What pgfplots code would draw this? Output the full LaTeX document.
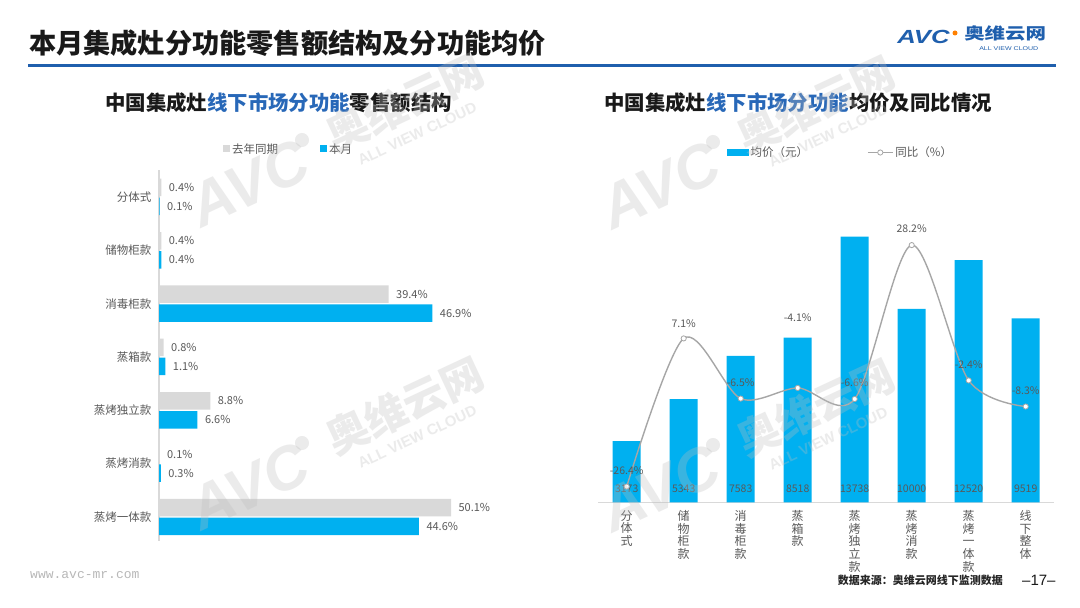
\documentclass[border=0pt]{standalone}
\usepackage{fontspec}
\setmainfont{Noto Sans CJK SC}
\newfontfamily\latinfont{Liberation Sans}
\newfontfamily\monofont{Liberation Mono}
\usepackage{pgfplots}
\pgfplotsset{compat=1.18}
\definecolor{cblue}{HTML}{00B0F0}
\definecolor{cgray}{HTML}{D9D9D9}
\definecolor{tgray}{HTML}{595959}
\definecolor{navy}{HTML}{1F5FAD}
\definecolor{subblue}{HTML}{2868B8}
\definecolor{lgray}{HTML}{A6A6A6}
\definecolor{wmc}{RGB}{190,190,190}
\newcommand{\fs}[1]{\fontsize{#1}{#1}\selectfont}
\newcommand{\wm}[2]{%
\begin{scope}[shift={(#1pt,608pt-#2pt)}, rotate=25, transform shape, fill opacity=0.3, text opacity=0.3]
 \node[font=\latinfont\bfseries\itshape\fs{61}, text=wmc, anchor=base east, inner sep=0] at (-4pt,-38pt) {AVC};
 \fill[wmc] (0pt,0pt) circle (7pt);
 \node[font=\fs{42}\bfseries, text=wmc, inner sep=0] at (109pt,-10pt) {奥维云网};
 \node[font=\latinfont\bfseries\fs{15}, text=wmc, inner sep=0] at (107pt,-43pt) {ALL VIEW CLOUD};
\end{scope}}
\begin{document}
\begin{tikzpicture}
\fill[white] (0pt,0pt) rectangle (1080pt,608pt);
% header
\node[anchor=west, font=\fs{27.2}\bfseries, text=black!90, inner sep=0] at (29pt,565pt) {本月集成灶分功能零售额结构及分功能均价};
\fill[navy] (28pt,543.7pt) rectangle (1056pt,541.2pt);
% logo
\node[anchor=west, font=\latinfont\bfseries\itshape\fs{19}, text=navy, xscale=1.35, inner sep=0] at (897pt,571pt) {AVC};
\fill[orange] (955pt,575pt) circle (2.5pt);
\node[anchor=west, font=\fs{16}\bfseries, text=navy, xscale=1.28, inner sep=0] at (964pt,574.5pt) {奥维云网};
\node[anchor=west, font=\latinfont\fs{5.5}, text=navy, xscale=1.28, inner sep=0] at (979pt,559.3pt) {ALL VIEW CLOUD};
% subtitles
\node[anchor=west, font=\fs{20.4}\bfseries, text=black!90, inner sep=0] at (105pt,505pt) {中国集成灶\textcolor{subblue}{线下市场分功能}零售额结构};
\node[anchor=west, font=\fs{20.4}\bfseries, text=black!90, inner sep=0] at (604pt,505pt) {中国集成灶\textcolor{subblue}{线下市场分功能}均价及同比情况};

% left chart
\begin{axis}[
  at={(159pt,67pt)}, anchor=south west,
  scale only axis, width=320.6pt, height=370.7pt,
  xbar, bar width=17.5pt, bar shift=0pt,
  xmin=0, xmax=55, ymin=-0.45, ymax=6.5,
  axis x line=none, axis y line*=left,
  y axis line style={draw=cgray, line width=1.5pt, -},
  ytick={0,...,6},
  yticklabels={蒸烤一体款,蒸烤消款,蒸烤独立款,蒸箱款,消毒柜款,储物柜款,分体式},
  major tick length=0pt,
  yticklabel style={font=\fs{11.5}, text=tgray, xshift=-4pt},
  nodes near coords, point meta=explicit symbolic,
  every node near coord/.append style={font=\fs{11}, text=tgray, anchor=west, xshift=4pt},
  clip=false,
  legend columns=2,
  legend style={at={(0.404,1.0575)}, anchor=center, draw=none, fill=none, font=\fs{11.5}, text=tgray,
    /tikz/every even column/.append style={column sep=40pt}},
]
\addplot[fill=cgray, draw=none, legend image code/.code={\fill[cgray] (0pt,-3.5pt) rectangle (7pt,3.5pt);}] coordinates {
 (0.4,6.178) [0.4\%]
 (0.4,5.178) [0.4\%]
 (39.4,4.178) [39.4\%]
 (0.8,3.178) [0.8\%]
 (8.8,2.178) [8.8\%]
 (0.1,1.178) [0.1\%]
 (50.1,0.178) [50.1\%]
};
\addlegendentry{去年同期}
\addplot[fill=cblue, draw=none, legend image code/.code={\fill[cblue] (0pt,-3.5pt) rectangle (7pt,3.5pt);}] coordinates {
 (0.1,5.822) [0.1\%]
 (0.4,4.822) [0.4\%]
 (46.9,3.822) [46.9\%]
 (1.1,2.822) [1.1\%]
 (6.6,1.822) [6.6\%]
 (0.3,0.822) [0.3\%]
 (44.6,-0.178) [44.6\%]
};
\addlegendentry{本月}
\end{axis}

% right chart: bars
\begin{axis}[
  at={(598.2pt,105.5pt)}, anchor=south west,
  scale only axis, width=456pt, height=309.6pt,
  ybar, bar width=28pt, bar shift=0pt,
  xmin=-0.5, xmax=7.5, ymin=0, ymax=16000,
  axis y line=none, axis x line*=bottom,
  x axis line style={draw=cgray, line width=1.2pt, -},
  xtick={0,...,7},
  xticklabels={{分\\体\\式},{储\\物\\柜\\款},{消\\毒\\柜\\款},{蒸\\箱\\款},{蒸\\烤\\独\\立\\款},{蒸\\烤\\消\\款},{蒸\\烤\\一\\体\\款},{线\\下\\整\\体}},
  xticklabel style={font=\fontsize{12}{12.6}\selectfont, text=tgray, align=center, anchor=north, yshift=-4.5pt},
  major tick length=0pt,
  clip=false,
  legend columns=2,
  legend style={at={(0.531,1.1305)}, anchor=center, draw=none, fill=none, font=\fs{11.5}, text=tgray,
    /tikz/every even column/.append style={column sep=57pt}},
]
\addplot[fill=cblue, draw=none, legend image code/.code={\fill[cblue] (0pt,-3.5pt) rectangle (22pt,3.5pt);}] coordinates {
 (0,3173) (1,5343) (2,7583) (3,8518) (4,13738) (5,10000) (6,12520) (7,9519)
};
\addlegendentry{均价（元）}
\addplot[draw=none, fill=none, forget plot, nodes near coords, point meta=explicit symbolic,
  every node near coord/.append style={anchor=center, yshift=13.5pt, font=\fs{10.5}, text=tgray}] coordinates {
 (0,0) [3173] (1,0) [5343] (2,0) [7583] (3,0) [8518] (4,0) [13738] (5,0) [10000] (6,0) [12520] (7,0) [9519]
};
\addlegendimage{legend image code/.code={\draw[lgray, line width=1.3pt] (0pt,0pt) -- (25pt,0pt); \draw[lgray, fill=white, line width=0.8pt] (12.5pt,0pt) circle (2.6pt);}}
\addlegendentry{同比（\%）}
\end{axis}

% right chart: line
\begin{axis}[
  at={(598.2pt,105.5pt)}, anchor=south west,
  scale only axis, width=456pt, height=309.6pt,
  xmin=-0.5, xmax=7.5, ymin=-30, ymax=40,
  hide axis, clip=false,
]
\addplot[lgray, line width=1.4pt, smooth, mark=*, mark size=2.6pt,
  mark options={fill=white, draw=lgray, line width=0.8pt},
  nodes near coords, point meta=explicit symbolic,
  visualization depends on={\thisrow{off} \as \off},
  every node near coord/.append style={anchor=center, yshift=\off pt, font=\fs{10.5}, text=tgray}]
  table[meta=lab] {
x y off lab
0 -26.4 16 -26.4\%
1 7.1 15 7.1\%
2 -6.5 16 -6.5\%
3 -4.1 70 -4.1\%
4 -6.6 16 -6.6\%
5 28.2 16 28.2\%
6 -2.4 16 -2.4\%
7 -8.3 16 -8.3\%
};
\end{axis}

% footer
\node[anchor=west, font=\monofont\fs{13}, text=black!28, inner sep=0] at (30pt,33pt) {www.avc-mr.com};
\node[anchor=east, font=\fs{11}\bfseries, text=black!85, inner sep=0] at (1003pt,28pt) {数据来源：奥维云网线下监测数据};
\node[anchor=west, font=\latinfont\fs{15}, text=black!90, inner sep=0] at (1022pt,28pt) {–17–};

% watermarks
\wm{302}{140}
\wm{302}{443}
\wm{713}{142}
\wm{713}{445}
\end{tikzpicture}
\end{document}
